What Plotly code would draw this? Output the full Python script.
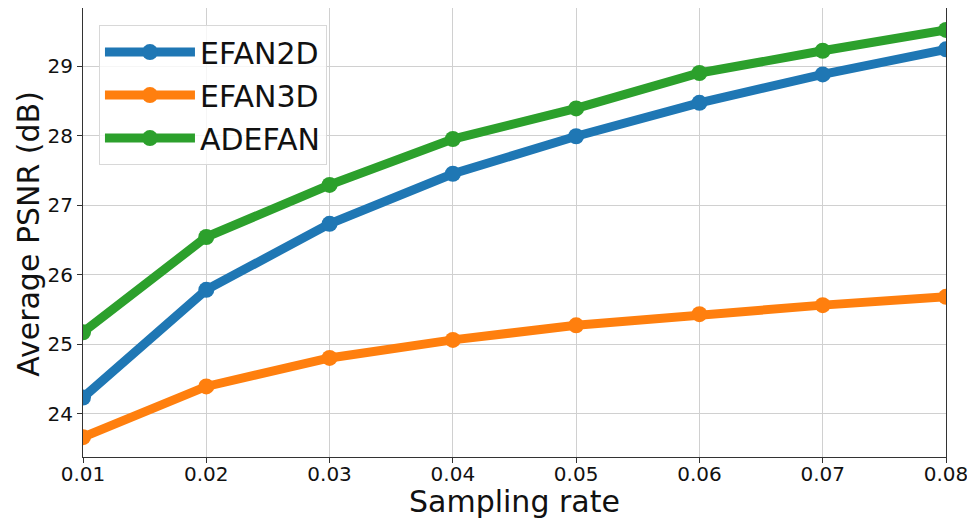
import plotly.graph_objects as go

sampling_rate = [0.01, 0.02, 0.03, 0.04, 0.05, 0.06, 0.07, 0.08]
efan2d = [24.23, 25.78, 26.73, 27.45, 27.99, 28.47, 28.88, 29.24]
efan3d = [23.66, 24.39, 24.80, 25.06, 25.27, 25.43, 25.56, 25.68]
adefan = [25.17, 26.54, 27.29, 27.95, 28.39, 28.90, 29.22, 29.52]
x_ticks = [0.01, 0.02, 0.03, 0.04, 0.05, 0.06, 0.07, 0.08]
y_ticks = [24, 25, 26, 27, 28, 29]

series = [("EFAN2D", efan2d, "#1f77b4"), ("EFAN3D", efan3d, "#ff7f0e"), ("ADEFAN", adefan, "#2ca02c")]

fig = go.Figure()
for i, (name, vals, col) in enumerate(series):
    fig.add_trace(go.Scatter(x=sampling_rate, y=vals, name=name, mode="lines+markers",
                             legendgroup=f"g{i}",
                             line=dict(color=col, width=9), marker=dict(color=col, size=16)))

font_family = "DejaVu Sans"
axis_common = dict(showline=True, linecolor="#333333", linewidth=1.2, mirror=True,
                   showgrid=True, gridcolor="#d0d0d0", gridwidth=1, zeroline=False,
                   ticks="outside", ticklen=5, tickcolor="#333333", automargin=False,
                   tickfont=dict(family=font_family, size=20, color="#111111"))

fig.update_layout(
    width=967, height=512,
    margin=dict(l=75, r=29, t=0, b=63),
    paper_bgcolor="white", plot_bgcolor="white",
    font=dict(family=font_family, color="#111111"),
    xaxis=dict(range=[0.01, 0.08], tickvals=x_ticks, ticktext=[f"{v:.2f}" for v in x_ticks],
               ticklabelstandoff=-6, **axis_common),
    yaxis=dict(range=[23.375, 29.835], tickvals=y_ticks, **axis_common),
    legend=dict(x=0.0185, y=0.962, xanchor="left", yanchor="top",
                bgcolor="rgba(255,255,255,0.8)", bordercolor="#d8d8d8", borderwidth=1,
                itemwidth=90, tracegroupgap=1,
                font=dict(size=30, family=font_family, color="#111111")),
    showlegend=True,
    annotations=[
        dict(text="Sampling rate", xref="paper", yref="paper", x=0.5, y=-0.098,
             xanchor="center", yanchor="middle", showarrow=False,
             font=dict(size=30, family=font_family, color="#111111")),
        dict(text="Average PSNR (dB)", xref="paper", yref="paper", x=-0.0626, y=0.497,
             xanchor="center", yanchor="middle", textangle=-90, showarrow=False,
             font=dict(size=30, family=font_family, color="#111111")),
    ],
)

fig.write_html("out.html")
